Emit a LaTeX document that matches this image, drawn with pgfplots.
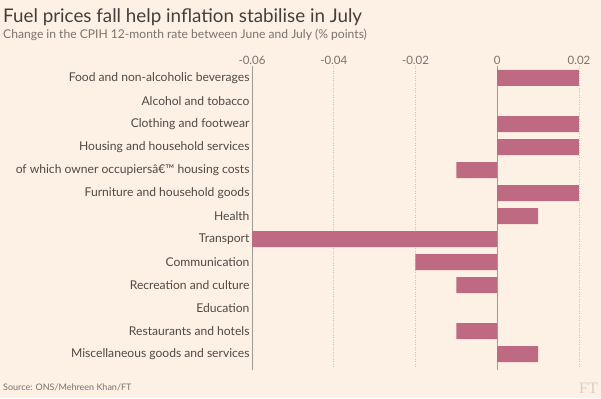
\documentclass[border=0pt]{standalone}
\usepackage{pgfplots}
\pgfplotsset{compat=1.18}
\usepackage{fontspec}
\setmainfont{Lato}
\newfontfamily\ftserif{Liberation Serif}
\definecolor{ftbg}{HTML}{FDF0E4}
\definecolor{barc}{HTML}{BE6A82}
\definecolor{txt}{HTML}{4F4A47}
\definecolor{subc}{HTML}{7A736E}
\definecolor{gridc}{HTML}{C9C1BA}
\begin{document}
\begin{tikzpicture}
\fill[ftbg] (0pt,0pt) rectangle (601pt,398pt);
\node[anchor=base west, font=\fontsize{18.8}{22}\selectfont, text=txt!85!black, inner sep=0] at (3pt,375pt) {Fuel prices fall help inflation stabilise in July};
\node[anchor=base west, font=\fontsize{12.1}{13}\selectfont, text=subc, inner sep=0] at (3pt,359pt) {Change in the CPIH 12-month rate between June and July (\% points)};
\node[anchor=base west, font=\fontsize{9}{10}\selectfont, text=subc, inner sep=0] at (3pt,8pt) {Source: ONS/Mehreen Khan/FT};
\node[anchor=base east, font=\ftserif\fontsize{16}{16}\selectfont, text=gridc!70!ftbg, inner sep=0] at (598pt,5pt) {FT};
\begin{axis}[
  at={(252pt,30pt)}, anchor=south west,
  scale only axis, width=327pt, height=302pt,
  xmin=-0.06, xmax=0.02,
  ymin=-0.52, ymax=12.6, y dir=reverse,
  axis line style={draw=none},
  scaled x ticks=false,
  xtick={-0.06,-0.04,-0.02,0,0.02},
  xticklabels={-0.06,-0.04,-0.02,0,0.02},
  xticklabel pos=upper,
  x tick label style={font=\fontsize{11.5}{12}\selectfont, text=subc, yshift=-2pt},
  major tick length=0pt,
  xmajorgrids=true, ymajorgrids=false,
  grid style={draw=gridc, dotted, line width=0.6pt},
  ytick={0,...,12},
  yticklabels={Food and non-alcoholic beverages, Alcohol and tobacco, Clothing and footwear, Housing and household services, of which owner occupiersâ€™ housing costs, Furniture and household goods, Health, Transport, Communication, Recreation and culture, Education, Restaurants and hotels, Miscellaneous goods and services},
  y tick label style={font=\fontsize{12.1}{13}\selectfont, text=txt, xshift=1pt},
  clip=false,
]
\draw[gridc!80!black, line width=0.7pt] (axis cs:-0.06,-0.52) -- (axis cs:-0.06,12.7);
\draw[gridc!80!black, line width=0.7pt] (axis cs:0,-0.52) -- (axis cs:0,12.7);
\addplot[xbar, bar width=16pt, fill=barc, draw=none] coordinates {
(0.02,0) (0,1) (0.02,2) (0.02,3) (-0.01,4) (0.02,5) (0.01,6) (-0.06,7) (-0.02,8) (-0.01,9) (0,10) (-0.01,11) (0.01,12)
};
\end{axis}
\end{tikzpicture}
\end{document}
